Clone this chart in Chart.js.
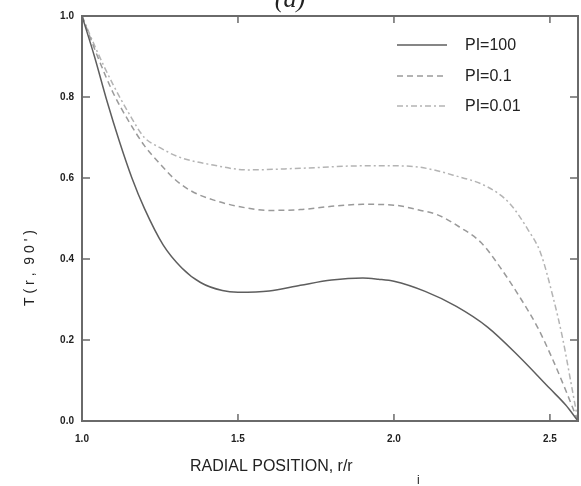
<!DOCTYPE html>
<html>
<head>
<meta charset="utf-8">
<script src="https://cdn.jsdelivr.net/npm/chart.js@4"></script>
<style>
  body { margin: 0; background: #fff; }
  #wrap { width: 581px; height: 486px; }
</style>
</head>
<body>
<div id="wrap"><canvas id="myChart" width="581" height="486"></canvas></div>
<script>
'use strict';
// values
let seriesNames = ['PI=100', 'PI=0.1', 'PI=0.01'];

let r100 = [1.0, 1.04, 1.08, 1.12, 1.16, 1.2, 1.26, 1.32, 1.38, 1.45, 1.5, 1.6, 1.7, 1.8, 1.9, 1.95, 2.0, 2.1, 2.2, 2.3, 2.4, 2.5, 2.55, 2.59];
let t100 = [1.0, 0.9, 0.79, 0.69, 0.6, 0.525, 0.435, 0.378, 0.342, 0.322, 0.318, 0.321, 0.335, 0.348, 0.353, 0.35, 0.345, 0.32, 0.283, 0.232, 0.16, 0.08, 0.04, 0.0];

let r01 = [1.0, 1.05, 1.1, 1.15, 1.2, 1.25, 1.3, 1.35, 1.42, 1.5, 1.6, 1.7, 1.8, 1.9, 2.0, 2.08, 2.14, 2.21, 2.28, 2.34, 2.4, 2.46, 2.51, 2.55, 2.59];
let t01 = [1.0, 0.9, 0.81, 0.74, 0.68, 0.635, 0.595, 0.568, 0.546, 0.53, 0.52, 0.522, 0.53, 0.535, 0.533, 0.521, 0.509, 0.479, 0.44, 0.38, 0.31, 0.232, 0.15, 0.077, 0.0];

let r001 = [1.0, 1.05, 1.1, 1.15, 1.2, 1.25, 1.31, 1.42, 1.53, 1.7, 1.9, 2.0, 2.08, 2.19, 2.3, 2.37, 2.43, 2.47, 2.51, 2.54, 2.57, 2.59];
let t001 = [1.0, 0.91, 0.83, 0.76, 0.70, 0.675, 0.652, 0.632, 0.62, 0.624, 0.63, 0.63, 0.627, 0.607, 0.578, 0.538, 0.472, 0.415, 0.306, 0.207, 0.084, 0.0];

let xTicks = [1.0, 1.5, 2.0, 2.5];
let yTicks = [0.0, 0.2, 0.4, 0.6, 0.8, 1.0];

function toPoints(xs, ys) {
    let pts = [];
    for (let i = 0; i < xs.length; i++) {
        pts.push({x: xs[i], y: ys[i]});
    }
    return pts;
}

let frameColor = '#6a6a6a';

// frame, inward ticks, legend and titles
let decor = {
    id: 'decor',
    afterDraw(chart) {
        let ctx = chart.ctx;
        let a = chart.chartArea;
        let xs = chart.scales.x;
        let ys = chart.scales.y;
        ctx.save();
        ctx.strokeStyle = frameColor;
        ctx.lineWidth = 2;
        ctx.strokeRect(a.left, a.top, a.right - a.left, a.bottom - a.top);

        ctx.lineWidth = 1.5;
        ctx.beginPath();
        for (let v of xTicks) {
            if (v === 1.0) continue;
            let px = xs.getPixelForValue(v);
            ctx.moveTo(px, a.bottom); ctx.lineTo(px, a.bottom - 7);
            ctx.moveTo(px, a.top); ctx.lineTo(px, a.top + 7);
        }
        for (let v of yTicks) {
            if (v === 0 || v === 1) continue;
            let py = ys.getPixelForValue(v);
            ctx.moveTo(a.left, py); ctx.lineTo(a.left + 8, py);
            ctx.moveTo(a.right, py); ctx.lineTo(a.right - 8, py);
        }
        ctx.stroke();

        // legend
        let ly = [45, 76, 106];
        chart.data.datasets.forEach(function (ds, i) {
            ctx.strokeStyle = ds.borderColor;
            ctx.lineWidth = ds.borderWidth;
            ctx.setLineDash(ds.borderDash || []);
            ctx.beginPath();
            ctx.moveTo(397, ly[i]); ctx.lineTo(447, ly[i]);
            ctx.stroke();
            ctx.setLineDash([]);
            ctx.fillStyle = '#222';
            ctx.font = '16px "Liberation Sans", Arial, sans-serif';
            ctx.textAlign = 'left';
            ctx.textBaseline = 'middle';
            ctx.fillText(ds.label, 465, ly[i] + 1);
        });

        // axis titles
        ctx.fillStyle = '#222';
        ctx.font = '16px "Liberation Sans", Arial, sans-serif';
        ctx.textAlign = 'left';
        ctx.textBaseline = 'middle';
        ctx.fillText('RADIAL POSITION, r/r', 190, 467);
        ctx.font = '12px "Liberation Sans", Arial, sans-serif';
        ctx.fillText('i', 417, 481);

        ctx.save();
        ctx.translate(30, 268);
        ctx.rotate(-Math.PI / 2);
        ctx.textAlign = 'center';
        ctx.font = '14px "Liberation Sans", Arial, sans-serif';
        ctx.fillText('T ( r ,  9 0 \' )', 0, 0);
        ctx.restore();

        ctx.font = 'italic 26px "Liberation Serif", serif';
        ctx.textAlign = 'center';
        ctx.textBaseline = 'alphabetic';
        ctx.fillText('(a)', 290, 7);
        ctx.restore();
    }
};

function viewChart() {
    let ctx = document.getElementById('myChart').getContext('2d');
    let chart = new Chart(ctx, {
        type: 'scatter',
        data: {
            datasets: [
                {
                    label: seriesNames[0],
                    data: toPoints(r100, t100),
                    borderColor: '#5e5e5e',
                    borderWidth: 1.5,
                    showLine: true,
                    pointRadius: 0,
                    cubicInterpolationMode: 'monotone'
                },
                {
                    label: seriesNames[1],
                    data: toPoints(r01, t01),
                    borderColor: '#9a9a9a',
                    borderWidth: 1.5,
                    borderDash: [6, 4],
                    showLine: true,
                    pointRadius: 0,
                    cubicInterpolationMode: 'monotone'
                },
                {
                    label: seriesNames[2],
                    data: toPoints(r001, t001),
                    borderColor: '#b4b4b4',
                    borderWidth: 1.5,
                    borderDash: [6, 3, 2, 3],
                    showLine: true,
                    pointRadius: 0,
                    cubicInterpolationMode: 'monotone'
                }
            ]
        },
        options: {
            responsive: false,
            animation: false,
            layout: { padding: { top: 16, right: 3, left: 0, bottom: 0 } },
            plugins: { legend: { display: false }, tooltip: { enabled: false } },
            scales: {
                x: {
                    type: 'linear',
                    min: 1.0,
                    max: 2.59,
                    afterBuildTicks: function (scale) {
                        scale.ticks = xTicks.map(function (v) { return {value: v}; });
                    },
                    afterFit: function (scale) { scale.height = 65; },
                    grid: { display: false, drawTicks: false },
                    border: { display: false },
                    ticks: {
                        padding: 12,
                        color: '#222',
                        font: { family: '"Liberation Sans", Arial', size: 10, weight: 'bold' },
                        callback: function (v) { return v.toFixed(1); }
                    }
                },
                y: {
                    min: 0,
                    max: 1,
                    afterBuildTicks: function (scale) {
                        scale.ticks = yTicks.map(function (v) { return {value: v}; });
                    },
                    afterFit: function (scale) { scale.width = 82; },
                    grid: { display: false, drawTicks: false },
                    border: { display: false },
                    ticks: {
                        padding: 8,
                        color: '#222',
                        font: { family: '"Liberation Sans", Arial', size: 10, weight: 'bold' },
                        callback: function (v) { return v.toFixed(1); }
                    }
                }
            }
        },
        plugins: [decor]
    });
}
viewChart();
</script>
</body>
</html>
